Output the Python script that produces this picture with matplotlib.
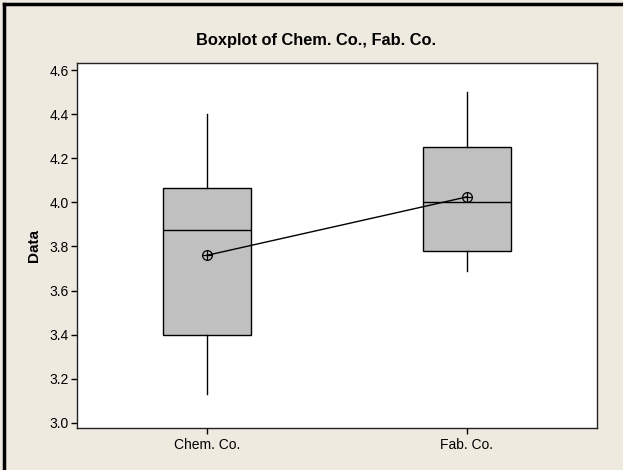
import matplotlib
matplotlib.use("Agg")
import matplotlib.pyplot as plt
from matplotlib.lines import Line2D

# group labels and five-number summaries
groups = ["Chem. Co.", "Fab. Co."]
whisker_low = [3.13, 3.69]
q1 = [3.40, 3.78]
medians = [3.875, 4.00]
q3 = [4.065, 4.25]
whisker_high = [4.40, 4.50]
means = [3.76, 4.025]

yticks = [3.0, 3.2, 3.4, 3.6, 3.8, 4.0, 4.2, 4.4, 4.6]


def main():
    plt.rcParams["font.family"] = ["Liberation Sans", "DejaVu Sans"]

    bg = "#eeeae0"
    fig = plt.figure(figsize=(6.23, 4.70), dpi=100, facecolor=bg)
    ax = fig.add_axes([77 / 623, 1 - 428 / 470, 520 / 623, 365 / 470])
    ax.set_facecolor("white")

    stats = []
    for i, name in enumerate(groups):
        stats.append({
            "label": name,
            "whislo": whisker_low[i],
            "q1": q1[i],
            "med": medians[i],
            "q3": q3[i],
            "whishi": whisker_high[i],
            "mean": means[i],
        })

    pos = [1, 2]
    ax.bxp(stats, positions=pos, widths=0.34, patch_artist=True,
           showcaps=False, showfliers=False, showmeans=False,
           boxprops=dict(facecolor="#c0c0c0", edgecolor="black", linewidth=1.0),
           medianprops=dict(color="black", linewidth=1.0),
           whiskerprops=dict(color="black", linewidth=1.0))

    # mean connect line and circled-cross symbols
    ax.plot(pos, means, color="black", linewidth=1.0, zorder=4)
    ax.plot(pos, means, linestyle="none", marker="o", markersize=7,
            markerfacecolor="none", markeredgecolor="black", markeredgewidth=0.9, zorder=5)
    ax.plot(pos, means, linestyle="none", marker="+", markersize=7,
            markeredgecolor="black", markeredgewidth=0.9, zorder=5)

    ax.set_xlim(0.5, 2.5)
    ax.set_ylim(2.977, 4.632)
    ax.set_yticks(yticks)
    ax.set_yticklabels([f"{v:.1f}" for v in yticks])
    ax.set_xticks(pos)
    ax.set_xticklabels(groups)
    ax.tick_params(axis="both", direction="out", length=4, width=1,
                   labelsize=10, colors="black")
    ax.tick_params(axis="x", pad=3.5)
    ax.tick_params(axis="y", pad=2)
    for s in ax.spines.values():
        s.set_color("#222222")
        s.set_linewidth(1.0)

    ax.set_ylabel("Data", fontsize=11, fontweight="bold", labelpad=6)
    fig.text(316 / 623, 1 - 40 / 470, "Boxplot of Chem. Co., Fab. Co.",
             ha="center", va="center", fontsize=11.8, fontweight="bold")

    # outer frame lines (top and left only)
    fig.add_artist(Line2D([4 / 623, 4 / 623], [0, 1 - 4 / 470],
                          transform=fig.transFigure, color="black", linewidth=2.5))
    fig.add_artist(Line2D([4 / 623, 1], [1 - 4 / 470, 1 - 4 / 470],
                          transform=fig.transFigure, color="black", linewidth=2.5))

    fig.savefig("out.png", dpi=100, facecolor=bg)


if __name__ == "__main__":
    main()
